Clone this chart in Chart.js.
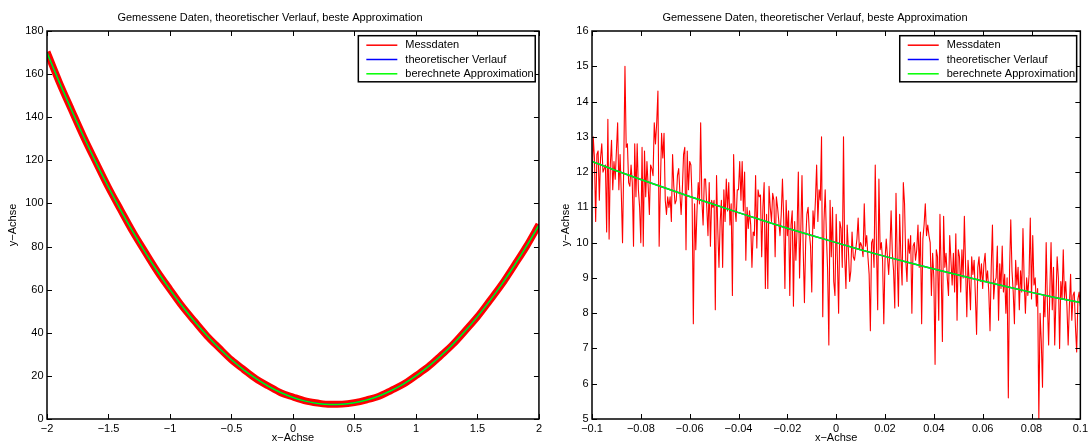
<!DOCTYPE html>
<html><head><meta charset="utf-8">
<script src="https://cdn.jsdelivr.net/npm/chart.js@4.4.1/dist/chart.umd.min.js"></script>
<style>
html,body{margin:0;padding:0;background:#fff;width:1091px;height:445px;overflow:hidden}
.wrap{position:absolute;top:0;height:445px}
#w1{left:0;width:545px}
#w2{left:545px;width:546px}
canvas{display:block}
</style></head><body>
<div class="wrap" id="w1"><canvas id="c1"></canvas></div>
<div class="wrap" id="w2"><canvas id="c2"></canvas></div>
<script>
// ---------- data ----------
const chartTitle = 'Gemessene Daten, theoretischer Verlauf, beste Approximation';
const seriesNames = ['Messdaten', 'theoretischer Verlauf', 'berechnete Approximation'];
const xAxisTitle = 'x\u2212Achse';
const yAxisTitle = 'y\u2212Achse';

// left plot: samples every 0.1 from -2 to 2
const leftXStart = -2, leftXStep = 0.1;
const leftMessdaten = [170.3,156.2,143.3,130.6,118.9,107.4,96.9,86.6,77.3,68.2,60.1,52.2,45.3,38.6,32.9,27.4,22.9,18.6,15.3,12.2,10.2,8.4,7.4,6.8,6.9,7.6,8.9,10.6,13.3,16.2,20.1,24.2,29.3,34.6,40.9,47.4,54.9,62.6,71.3,80.2,90.2];
const leftTheorie = [170,156.3,143.2,130.7,118.8,107.5,96.8,86.7,77.2,68.3,60,52.3,45.2,38.7,32.8,27.5,22.8,18.7,15.2,12.3,10,8.3,7.2,6.7,6.8,7.5,8.8,10.7,13.2,16.3,20,24.3,29.2,34.7,40.8,47.5,54.8,62.7,71.2,80.3,90];
const leftApprox = [170,156.3,143.2,130.7,118.8,107.5,96.8,86.7,77.2,68.3,60,52.3,45.2,38.7,32.8,27.5,22.8,18.7,15.2,12.3,10,8.3,7.2,6.7,6.8,7.5,8.8,10.7,13.2,16.3,20,24.3,29.2,34.7,40.8,47.5,54.8,62.7,71.2,80.3,90];
const leftXTicks = {min: -2, max: 2, step: 0.5};
const leftYTicks = {min: 0, max: 180, step: 20};

// right plot: measured samples every 0.0005 from -0.1 to 0.1
const rightXStart = -0.1, rightXStep = 0.0005;
const rightMessdaten = [
11.5,13.0,12.4,10.6,12.5,12.6,11.2,12.4,12.8,12.0,12.1,12.2,10.3,13.5,10.1,12.2,12.9,11.5,12.3,11.8,
12.6,13.4,11.5,12.5,11.4,10.0,12.2,15.0,12.7,12.8,11.7,11.6,12.2,11.7,9.9,12.8,11.3,12.8,11.5,11.0,
10.0,12.7,9.9,12.6,11.3,12.3,11.6,10.8,12.2,12.1,11.9,13.4,12.8,13.4,14.3,9.9,11.6,13.1,12.4,13.1,
11.2,10.8,11.3,11.0,11.3,10.6,12.5,11.6,11.1,11.2,11.9,12.1,11.4,10.8,11.5,12.5,12.7,9.8,12.6,11.5,
12.3,12.2,11.2,7.7,11.1,9.8,10.9,11.7,11.1,13.4,11.2,10.5,11.8,11.8,11.0,10.2,11.7,9.9,11.2,11.0,
11.2,8.1,11.9,10.4,9.3,10.6,11.2,9.3,11.5,10.6,11.8,10.9,11.7,10.5,11.1,8.5,12.5,11.0,10.6,11.5,
11.5,12.3,11.2,12.3,10.9,12.0,9.5,11.0,10.4,10.9,10.5,9.3,10.3,10.2,11.9,9.85,11.5,11.3,11.35,9.6,
11.0,11.7,8.7,10.8,8.7,11.6,11.0,10.6,11.4,11.2,9.6,11.3,11.0,10.6,10.2,10.8,11.8,10.7,8.7,11.2,
10.2,10.9,8.5,10.5,10.9,8.2,10.6,9.5,10.4,12.0,9.0,10.3,11.9,9.8,8.3,10.0,10.8,11.0,10.3,9.9,
8.6,10.9,10.4,11.2,12.2,10.6,11.5,11.2,13.0,7.9,10.6,11.5,10.2,9.2,7.1,11.2,9.6,11.0,8.9,8.5,
10.8,9.5,8.0,10.6,10.4,9.3,13.0,9.6,8.7,10.5,9.8,8.9,9.2,10.3,9.6,9.5,9.8,10.1,10.7,9.8,
10.0,9.9,9.6,11.1,9.9,10.2,9.6,9.1,7.5,10.0,10.1,9.3,12.2,9.9,8.1,11.8,9.8,10.0,9.5,7.7,
9.5,10.1,9.6,9.1,9.8,10.9,9.7,9.2,8.15,11.4,9.5,8.2,10.8,9.6,8.8,11.7,11.1,9.5,8.9,10.1,
9.7,10.2,8.0,9.9,10.0,9.5,9.8,10.5,9.3,10.3,7.7,10.1,10.5,11.1,10.2,10.5,10.2,10.0,8.5,9.7,
9.0,6.55,9.8,9.6,7.8,10.8,9.2,7.2,10.75,9.3,9.7,9.0,8.5,10.2,9.5,8.8,9.7,8.6,10.25,7.8,
9.8,9.6,8.6,9.8,9.0,10.75,9.3,7.9,9.5,8.9,8.1,9.6,9.1,9.5,8.5,7.4,9.3,9.6,8.9,9.4,
8.7,9.4,9.7,8.9,9.2,8.6,7.5,9.3,10.5,8.4,8.9,9.0,9.9,7.8,9.4,8.7,9.9,8.6,9.1,8.0,
9.0,5.6,9.2,10.65,9.2,8.6,7.7,9.5,8.8,9.3,8.1,9.2,8.6,10.4,8.9,8.0,9.0,8.5,9.1,10.7,
8.4,10.2,8.8,9.0,8.2,8.7,5.0,8.0,7.2,5.9,8.5,7.9,10.0,8.3,7.1,8.6,10.0,8.1,9.3,7.1,
8.4,9.6,9.0,7.0,8.9,8.4,9.8,8.4,8.9,8.2,7.1,8.2,9.1,7.8,8.5,8.6,7.6,6.9,8.4,8.6,8.2
];
// right plot curves: every 0.01 from -0.1 to 0.1
const rightCurveXStart = -0.1, rightCurveXStep = 0.01;
const rightTheorie = [12.3,12.04,11.79,11.55,11.31,11.08,10.85,10.63,10.41,10.2,10.0,9.8,9.61,9.43,9.25,9.08,8.91,8.75,8.59,8.44,8.3];
const rightApprox  = [12.3,12.04,11.79,11.55,11.31,11.08,10.85,10.63,10.41,10.2,10.0,9.8,9.61,9.43,9.25,9.08,8.91,8.75,8.59,8.44,8.3];
const rightXTicks = {min: -0.1, max: 0.1, step: 0.02};
const rightYTicks = {min: 5, max: 16, step: 1};

const colors = ['#ff0000', '#0000ff', '#00ff00'];

// ---------- helpers ----------
const FONT = '"Liberation Sans", Arial, Helvetica, sans-serif';
function pts(x0, dx, ys) { return ys.map((y, i) => ({x: +(x0 + i * dx).toFixed(6), y})); }
function fmt(v) { const r = Math.round(v * 10000) / 10000; return String(r).replace('-', '\u2212'); }

const matlabAxes = {
  id: 'matlabAxes',
  afterDatasetsDraw(chart) {
    const {ctx, chartArea: a, scales} = chart;
    const L = 5;
    ctx.save();
    ctx.strokeStyle = '#000';
    ctx.lineWidth = 1;
    ctx.beginPath();
    scales.x.ticks.forEach(t => {
      const px = Math.round(scales.x.getPixelForValue(t.value)) + 0.5;
      ctx.moveTo(px, a.bottom); ctx.lineTo(px, a.bottom - L);
      ctx.moveTo(px, a.top); ctx.lineTo(px, a.top + L);
    });
    scales.y.ticks.forEach(t => {
      const py = Math.round(scales.y.getPixelForValue(t.value)) + 0.5;
      ctx.moveTo(a.left, py); ctx.lineTo(a.left + L, py);
      ctx.moveTo(a.right, py); ctx.lineTo(a.right - L, py);
    });
    ctx.stroke();
    ctx.lineWidth = 1.5;
    ctx.strokeRect(a.left, a.top, a.right - a.left, a.bottom - a.top);
    ctx.restore();
  }
};

const boxLegend = {
  id: 'boxLegend',
  afterDraw(chart, args, o) {
    const {ctx, chartArea: a} = chart;
    const ds = chart.data.datasets;
    ctx.save();
    ctx.font = o.fontSize + 'px ' + FONT;
    const tw = Math.max(...ds.map(d => ctx.measureText(d.label).width));
    const w = o.padL + o.lineLen + o.gap + tw + o.padR;
    const h = o.firstRow + (ds.length - 1) * o.rowH + o.lastPad;
    const x0 = a.right - o.right - w, y0 = a.top + o.top;
    ctx.fillStyle = '#fff';
    ctx.fillRect(x0, y0, w, h);
    ctx.strokeStyle = '#000';
    ctx.lineWidth = 1.5;
    ctx.strokeRect(x0, y0, w, h);
    ds.forEach((d, i) => {
      const cy = y0 + o.firstRow + i * o.rowH;
      ctx.strokeStyle = d.borderColor;
      ctx.lineWidth = 1.5;
      ctx.beginPath();
      ctx.moveTo(x0 + o.padL, cy); ctx.lineTo(x0 + o.padL + o.lineLen, cy);
      ctx.stroke();
      ctx.fillStyle = '#000';
      ctx.textBaseline = 'middle';
      ctx.textAlign = 'left';
      ctx.fillText(d.label, x0 + o.padL + o.lineLen + o.gap, cy);
    });
    ctx.restore();
  }
};

function makeChart(id, datasets, xt, yt, opt) {
  const font = {family: FONT, size: 11, weight: 'normal'};
  return new Chart(document.getElementById(id), {
    type: 'scatter',
    data: {datasets},
    plugins: [matlabAxes, boxLegend],
    options: {
      animation: false,
      responsive: true,
      maintainAspectRatio: false,
      devicePixelRatio: 1,
      layout: {padding: {left: 0, right: opt.padRight, top: 0, bottom: 0}, autoPadding: false},
      events: [],
      plugins: {
        legend: {display: false},
        tooltip: {enabled: false},
        title: {display: true, text: chartTitle, color: '#000', font, padding: {top: 11.4, bottom: 6.4}},
        boxLegend: {fontSize: 11, padL: 8, lineLen: 31, gap: 8, padR: 1.5, firstRow: 9.5, rowH: 14.3, lastPad: 8, right: 3.7, top: 4.7}
      },
      scales: {
        x: {
          type: 'linear', position: 'bottom', min: xt.min, max: xt.max,
          ticks: {stepSize: xt.step, color: '#000', font, padding: 3, maxRotation: 0, autoSkip: false, callback: v => fmt(v)},
          grid: {display: false, drawTicks: false},
          border: {display: false},
          title: {display: true, text: xAxisTitle, color: '#000', font, padding: {top: 0, bottom: 0.4}},
          afterFit: s => { s.height = 26; }
        },
        y: {
          type: 'linear', position: 'left', min: yt.min, max: yt.max,
          ticks: {stepSize: yt.step, color: '#000', font, padding: 3.5, autoSkip: false, callback: v => fmt(v)},
          grid: {display: false, drawTicks: false},
          border: {display: false},
          title: {display: true, text: yAxisTitle, color: '#000', font, padding: {top: opt.yTitlePad, bottom: 0}},
          afterFit: s => { s.width = 47; }
        }
      }
    }
  });
}

const common = {showLine: true, pointRadius: 0, fill: false, clip: 0, borderJoinStyle: 'round'};

makeChart('c1', [
  Object.assign({label: seriesNames[0], data: pts(leftXStart, leftXStep, leftMessdaten), borderColor: colors[0], borderWidth: 7, order: 2, cubicInterpolationMode: 'monotone'}, common),
  Object.assign({label: seriesNames[1], data: pts(leftXStart, leftXStep, leftTheorie), borderColor: colors[1], borderWidth: 1.5, order: 1, cubicInterpolationMode: 'monotone'}, common),
  Object.assign({label: seriesNames[2], data: pts(leftXStart, leftXStep, leftApprox), borderColor: colors[2], borderWidth: 1.5, order: 0, cubicInterpolationMode: 'monotone'}, common)
], leftXTicks, leftYTicks, {padRight: 5, yTitlePad: 6.4});

makeChart('c2', [
  Object.assign({label: seriesNames[0], data: pts(rightXStart, rightXStep, rightMessdaten), borderColor: colors[0], borderWidth: 1.1, order: 2}, common),
  Object.assign({label: seriesNames[1], data: pts(rightCurveXStart, rightCurveXStep, rightTheorie), borderColor: colors[1], borderWidth: 1.5, order: 1}, common),
  Object.assign({label: seriesNames[2], data: pts(rightCurveXStart, rightCurveXStep, rightApprox), borderColor: colors[2], borderWidth: 1.5, order: 0}, common)
], rightXTicks, rightYTicks, {padRight: 6, yTitlePad: 14.4});
</script></body></html>
